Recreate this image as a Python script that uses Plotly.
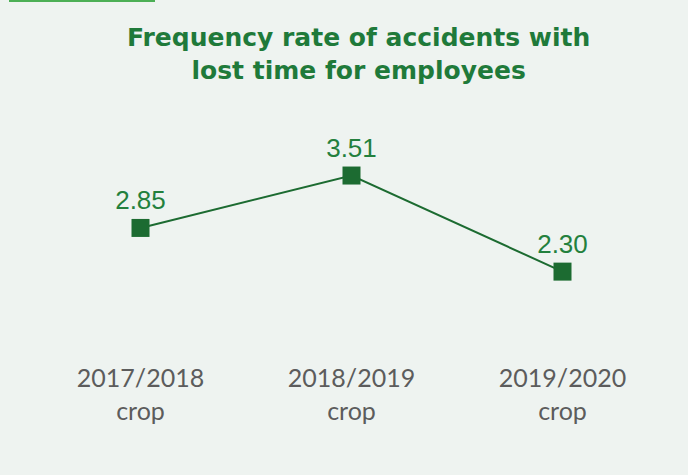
import plotly.graph_objects as go

# Crop seasons and the frequency rate recorded for each
seasons = ["2017/2018", "2018/2019", "2019/2020"]
season_suffix = "crop"
frequency_rate = [2.85, 3.51, 2.30]

title_text = "Frequency rate of accidents with<br>lost time for employees"

GREEN_DARK = "#1c6b31"
GREEN_TEXT = "#23803d"
GREEN_TITLE = "#1f7a3a"
GREEN_ACCENT = "#4caf55"
GREY_TEXT = "#5c5c5c"
BG = "#eef3f0"

W, H = 688, 475
margin = dict(l=35, r=20, t=100, b=135)
plot_w = W - margin["l"] - margin["r"]
plot_h = H - margin["t"] - margin["b"]

x_idx = list(range(len(seasons)))
tick_labels = [f"{s}<br>{season_suffix}" for s in seasons]

fig = go.Figure()
fig.add_trace(
    go.Scatter(
        x=x_idx,
        y=frequency_rate,
        mode="lines+markers+text",
        line=dict(color=GREEN_DARK, width=2),
        marker=dict(symbol="square", size=18, color=GREEN_DARK),
        text=[f"{v:.2f}" for v in frequency_rate],
        textposition="top center",
        textfont=dict(family="Liberation Sans, Arial, sans-serif", size=26, color=GREEN_TEXT),
        hoverinfo="skip",
        cliponaxis=False,
    )
)

# thin accent strip along the top-left edge
fig.add_shape(
    type="rect",
    xref="paper", yref="paper",
    x0=(9 - margin["l"]) / plot_w, x1=(155 - margin["l"]) / plot_w,
    y0=1 + (margin["t"] - 2) / plot_h,
    y1=1 + margin["t"] / plot_h,
    line=dict(width=0),
    fillcolor=GREEN_ACCENT,
)

# two-line heading
fig.add_annotation(
    text=title_text,
    xref="paper", yref="paper",
    x=(358 - margin["l"]) / plot_w,
    y=1 + (margin["t"] - 54) / plot_h,
    xanchor="center", yanchor="middle",
    showarrow=False,
    align="center",
    font=dict(family="DejaVu Sans, sans-serif", size=25, color=GREEN_TITLE, weight="bold"),
)

fig.update_layout(
    width=W,
    height=H,
    margin=margin,
    paper_bgcolor=BG,
    plot_bgcolor=BG,
    showlegend=False,
    xaxis=dict(
        range=[-0.5, 2.5],
        tickmode="array",
        tickvals=x_idx,
        ticktext=tick_labels,
        tickfont=dict(family="Lato, sans-serif", size=25, color=GREY_TEXT),
        showgrid=False,
        zeroline=False,
        showline=False,
        ticks="",
        ticklabelstandoff=21,
        fixedrange=True,
    ),
    yaxis=dict(
        range=[1.439, 4.461],
        visible=False,
        showgrid=False,
        zeroline=False,
        fixedrange=True,
    ),
)

fig.write_html("out.html")
